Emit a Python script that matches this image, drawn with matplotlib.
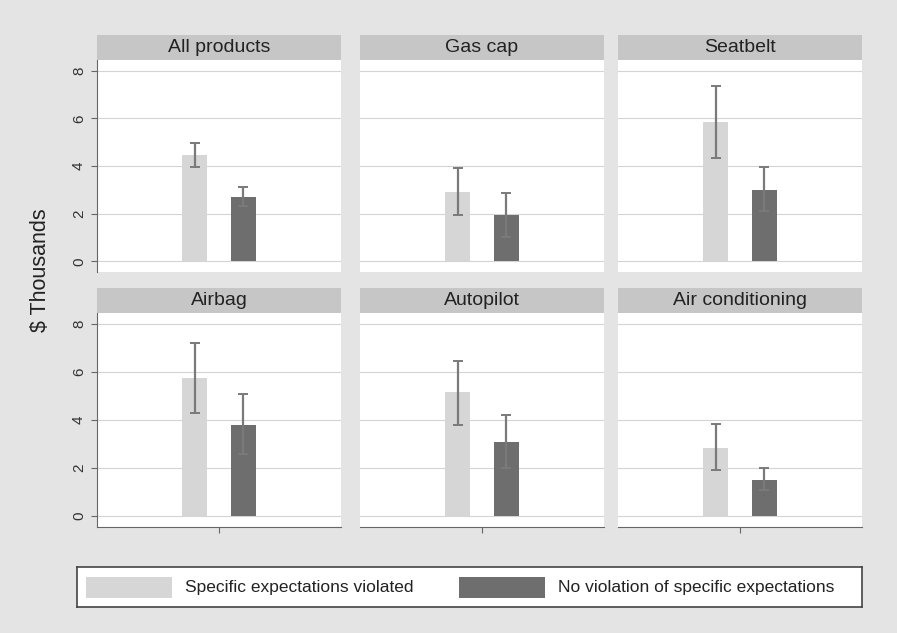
import numpy as np
import matplotlib.pyplot as plt
from matplotlib.patches import Rectangle

plt.rcParams['font.family'] = ['Liberation Sans', 'DejaVu Sans']

# values ($ thousands)
products = ['All products', 'Gas cap', 'Seatbelt', 'Airbag', 'Autopilot', 'Air conditioning']
violated = [4.45, 2.9, 5.85, 5.75, 5.15, 2.85]
violated_lo = [3.95, 1.95, 4.35, 4.3, 3.8, 1.9]
violated_hi = [4.95, 3.9, 7.35, 7.2, 6.45, 3.85]
no_violation = [2.7, 1.95, 3.0, 3.8, 3.1, 1.5]
no_violation_lo = [2.3, 1.0, 2.1, 2.6, 2.0, 1.1]
no_violation_hi = [3.1, 2.85, 3.95, 5.1, 4.2, 2.0]
legend_labels = ['Specific expectations violated', 'No violation of specific expectations']
yticks = [0, 2, 4, 6, 8]

W, H = 897, 633
bg = '#e4e4e4'
strip_col = '#c6c6c6'
light = '#d6d6d6'
dark = '#6e6e6e'
errc = '#7a7a7a'

fig = plt.figure(figsize=(W / 100, H / 100), dpi=100, facecolor=bg)

col_left = [97, 360, 618]
col_w = 244
rows = [(60, 272), (313, 527)]
strip_h = 25

for i, name in enumerate(products):
    r, c = divmod(i, 3)
    top, bot = rows[r]
    ax = fig.add_axes([col_left[c] / W, (H - bot) / H, col_w / W, (bot - top) / H])
    ax.set_facecolor('white')
    ax.set_xlim(0, 1)
    ax.set_ylim(-0.45, 8.45)
    for y in yticks:
        ax.axhline(y, color='#d4d4d4', lw=0.8, zorder=0)

    ax.bar(0.4, violated[i], width=0.105, color=light, zorder=2)
    ax.bar(0.6, no_violation[i], width=0.105, color=dark, zorder=2)
    ax.errorbar([0.4], [violated[i]],
                yerr=[[violated[i] - violated_lo[i]], [violated_hi[i] - violated[i]]],
                fmt='none', ecolor=errc, elinewidth=1.6, capsize=3.5, capthick=1.4, zorder=3)
    ax.errorbar([0.6], [no_violation[i]],
                yerr=[[no_violation[i] - no_violation_lo[i]], [no_violation_hi[i] - no_violation[i]]],
                fmt='none', ecolor=errc, elinewidth=1.6, capsize=3.5, capthick=1.4, zorder=3)

    for s in ['top', 'right']:
        ax.spines[s].set_visible(False)
    ax.spines['left'].set_visible(c == 0)
    ax.spines['bottom'].set_visible(r == 1)
    ax.spines['left'].set_color('#666666')
    ax.spines['bottom'].set_color('#666666')

    if c == 0:
        ax.set_yticks(yticks)
        ax.set_yticklabels([str(t) for t in yticks], rotation=90, va='center', fontsize=11, color='#333333')
        ax.tick_params(axis='y', length=4, color='#666666', pad=4)
    else:
        ax.set_yticks([])
    if r == 1:
        ax.set_xticks([0.5])
        ax.set_xticklabels([''])
        ax.tick_params(axis='x', length=4, color='#666666')
    else:
        ax.set_xticks([])

    sh = strip_h / (bot - top)
    ax.add_patch(Rectangle((0, 1), 1, sh, transform=ax.transAxes, facecolor=strip_col,
                           edgecolor='none', clip_on=False))
    ax.text(0.5, 1 + sh / 2, name, transform=ax.transAxes, ha='center', va='center',
            fontsize=14, color='#222222')

fig.text(40 / W, 1 - 270 / H, '$ Thousands', rotation=90, ha='center', va='center',
         fontsize=15.5, color='#222222')

# legend box drawn in its own axes (pixel-like coordinates inside the box)
lx0, lx1, ly0, ly1 = 77, 862, 567, 607
lax = fig.add_axes([lx0 / W, (H - ly1) / H, (lx1 - lx0) / W, (ly1 - ly0) / H])
lax.set_xlim(lx0, lx1)
lax.set_ylim(ly1, ly0)
lax.set_xticks([])
lax.set_yticks([])
lax.set_facecolor('white')
for s in lax.spines.values():
    s.set_color('#444444')
    s.set_linewidth(1.2)
for x0, col, lab in [(86, light, legend_labels[0]), (459, dark, legend_labels[1])]:
    lax.add_patch(Rectangle((x0, 577), 86, 21, facecolor=col, edgecolor='none'))
    lax.text(x0 + 99, 587.5, lab, ha='left', va='center', fontsize=12.5, color='#222222')

fig.savefig('out.png', dpi=100, facecolor=bg)
